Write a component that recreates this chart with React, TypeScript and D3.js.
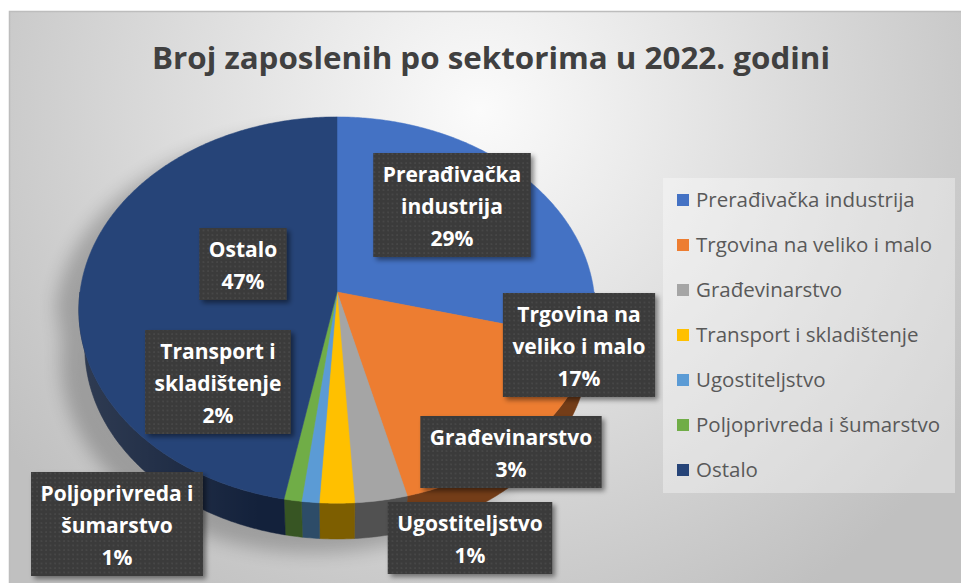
import * as d3 from 'd3';
import { useEffect, useRef } from 'react';

const title = 'Broj zaposlenih po sektorima u 2022. godini';
const categories = [
    'Prerađivačka industrija',
    'Trgovina na veliko i malo',
    'Građevinarstvo',
    'Transport i skladištenje',
    'Ugostiteljstvo',
    'Poljoprivreda i šumarstvo',
    'Ostalo',
];
const shares = [29, 17, 3, 2, 1, 1, 47];
const colors = ['#4472c4', '#ed7d31', '#a5a5a5', '#ffc000', '#5b9bd5', '#70ad47', '#264478'];
// data label text, broken the way the chart breaks it
const labelLines = [
    ['Prerađivačka', 'industrija'],
    ['Trgovina na', 'veliko i malo'],
    ['Građevinarstvo'],
    ['Transport i', 'skladištenje'],
    ['Ugostiteljstvo'],
    ['Poljoprivreda i', 'šumarstvo'],
    ['Ostalo'],
];

const W = 961, H = 583;
// labels were dragged by hand in the original: centre x / top y of each box
const labelBoxes: [number, number][] = [[452, 153], [579, 293], [511, 416], [218, 330], [470, 502], [117, 472], [243, 228]];

// 3d pie: disk seen from above with a bit of perspective
const PIE = { cx: 337, cy: 292, scale: 257, dist: 7.13, tilt: Math.asin(0.745), depth: 0.2226 };

const project = (theta: number, r: number, y: number): [number, number] => {
    const x = r * Math.sin(theta), z = -r * Math.cos(theta);
    const sa = Math.sin(PIE.tilt), ca = Math.cos(PIE.tilt);
    const D = PIE.dist - y * sa - z * ca;
    const yc = y * ca - z * sa;
    const F = PIE.scale * PIE.dist;
    return [PIE.cx + F * x / D, PIE.cy - F * yc / D];
};

const arcPoints = (a0: number, a1: number, y: number) => {
    const n = Math.max(2, Math.ceil(Math.abs(a1 - a0) / 0.01));
    return d3.range(n + 1).map(i => project(a0 + (a1 - a0) * i / n, 1, y));
};

const line = d3.line();

export default function App() {
    const ref = useRef<SVGSVGElement>(null);

    useEffect(() => {
        const svg = d3.select(ref.current);
        svg.selectAll('*').remove();

        const defs = svg.append('defs');
        const bg = defs.append('radialGradient').attr('id', 'bg')
            .attr('gradientUnits', 'userSpaceOnUse').attr('cx', 480).attr('cy', 110).attr('r', 580);
        bg.append('stop').attr('offset', 0).attr('stop-color', '#fbfbfb');
        bg.append('stop').attr('offset', 1).attr('stop-color', '#c0c0c0');

        const dots = defs.append('pattern').attr('id', 'dots')
            .attr('patternUnits', 'userSpaceOnUse').attr('width', 4.5).attr('height', 4.5);
        dots.append('rect').attr('width', 4.5).attr('height', 4.5).attr('fill', '#3b3b3b');
        dots.append('circle').attr('cx', 1).attr('cy', 1).attr('r', 0.8).attr('fill', '#4f4f4f');

        const blur = defs.append('filter').attr('id', 'pieShadow')
            .attr('x', '-30%').attr('y', '-30%').attr('width', '160%').attr('height', '160%');
        blur.append('feGaussianBlur').attr('stdDeviation', 9);

        const boxShadow = defs.append('filter').attr('id', 'boxShadow')
            .attr('x', '-20%').attr('y', '-20%').attr('width', '140%').attr('height', '140%');
        boxShadow.append('feDropShadow').attr('dx', 3).attr('dy', 3).attr('stdDeviation', 2.5)
            .attr('flood-color', '#000').attr('flood-opacity', 0.45);

        // side wall shading, lighter on the left
        const wall = defs.append('linearGradient').attr('id', 'wall')
            .attr('gradientUnits', 'userSpaceOnUse').attr('x1', 80).attr('x2', 594).attr('y1', 0).attr('y2', 0);
        wall.append('stop').attr('offset', 0).attr('stop-color', '#fff').attr('stop-opacity', 0.12);
        wall.append('stop').attr('offset', 0.35).attr('stop-color', '#fff').attr('stop-opacity', 0);

        // chart area
        svg.append('rect').attr('x', 9.5).attr('y', 11.5).attr('width', W).attr('height', H)
            .attr('fill', 'url(#bg)').attr('stroke', '#bdbdbd').attr('stroke-width', 1.5);

        svg.append('text').attr('x', 491).attr('y', 69).attr('text-anchor', 'middle')
            .attr('font-family', 'Open Sans').attr('font-weight', 700).attr('font-size', 31)
            .attr('textLength', 678).attr('lengthAdjust', 'spacingAndGlyphs')
            .attr('fill', '#404040').text(title);

        const arcs = d3.pie<number>().sort(null).startAngle(0).endAngle(2 * Math.PI)(shares);

        // soft shadow of the whole pie
        const outline = [
            ...arcPoints(-Math.PI / 2, Math.PI / 2, 0),
            ...arcPoints(Math.PI / 2, 3 * Math.PI / 2, -PIE.depth),
        ];
        svg.append('path').attr('d', line(outline) + 'Z')
            .attr('transform', 'translate(-24,14)')
            .attr('fill', '#000').attr('opacity', 0.22).attr('filter', 'url(#pieShadow)');

        // side walls of the front half
        const sides = svg.append('g');
        const wallPts = [...arcPoints(Math.PI / 2, 3 * Math.PI / 2, 0), ...arcPoints(3 * Math.PI / 2, Math.PI / 2, -PIE.depth)];
        arcs.forEach((a, i) => {
            const s0 = Math.max(a.startAngle, Math.PI / 2);
            const s1 = Math.min(a.endAngle, 3 * Math.PI / 2);
            if (s1 <= s0) return;
            const pts = [...arcPoints(s0, s1, 0), ...arcPoints(s1, s0, -PIE.depth)];
            sides.append('path').attr('d', line(pts) + 'Z')
                .attr('fill', d3.color(colors[i])!.darker(2).toString())
                .attr('stroke', d3.color(colors[i])!.darker(2).toString()).attr('stroke-width', 0.5);
        });
        sides.append('path').attr('d', line(wallPts) + 'Z').attr('fill', 'url(#wall)');

        // top faces
        const tops = svg.append('g');
        const apex = project(0, 0, 0);
        arcs.forEach((a, i) => {
            const pts = [apex, ...arcPoints(a.startAngle, a.endAngle, 0)];
            tops.append('path').attr('d', line(pts) + 'Z')
                .attr('fill', colors[i]).attr('stroke', colors[i]).attr('stroke-width', 0.5);
        });

        // legend
        svg.append('rect').attr('x', 663).attr('y', 178).attr('width', 292).attr('height', 315)
            .attr('fill', '#fff').attr('opacity', 0.35);
        const legend = svg.append('g');
        categories.forEach((c, i) => {
            const y = 194 + i * 45;
            legend.append('rect').attr('x', 677).attr('y', y).attr('width', 12).attr('height', 12)
                .attr('fill', colors[i]);
            legend.append('text').attr('x', 696).attr('y', y + 13)
                .attr('font-family', 'Open Sans').attr('font-size', 20.5).attr('fill', '#595959').text(c);
        });

        // data labels
        const labels = svg.append('g');
        arcs.forEach((a, i) => {
            const [bx, by] = labelBoxes[i];
            const lines = [...labelLines[i], `${shares[i]}%`];
            const g = labels.append('g');
            const rect = g.append('rect');
            const texts = lines.map((t, j) => g.append('text')
                .attr('x', bx).attr('y', by + 29 + j * 32).attr('text-anchor', 'middle')
                .attr('font-family', 'Open Sans').attr('font-weight', 700).attr('font-size', 21)
                .attr('fill', '#fff').text(t));
            const w = d3.max(texts, t => (t.node() as SVGTextElement).getComputedTextLength())! + 19;
            rect.attr('x', bx - w / 2).attr('y', by).attr('width', w).attr('height', lines.length * 32 + 8)
                .attr('fill', 'url(#dots)').attr('filter', 'url(#boxShadow)');
        });
    }, []);

    return (
        <svg ref={ref} width={W} height={H} style={{ position: 'absolute', left: 0, top: 0, background: '#fff' }} />
    );
}
